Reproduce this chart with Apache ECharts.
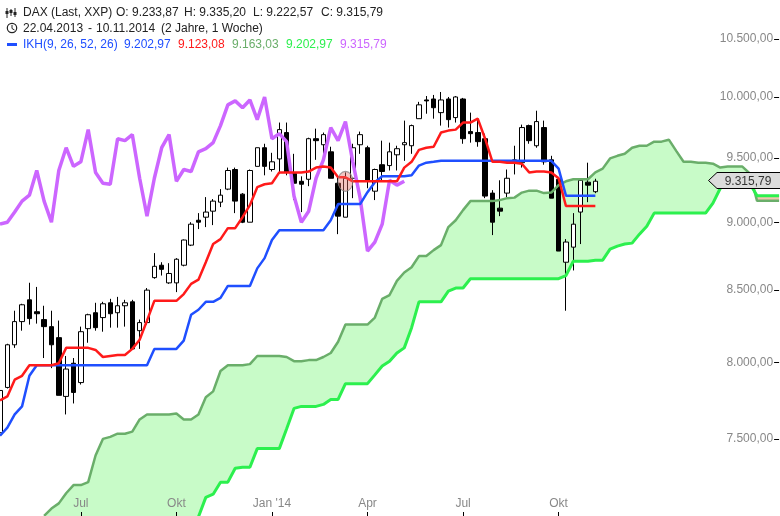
<!DOCTYPE html>
<html>
<head>
<meta charset="utf-8">
<style>html,body{margin:0;padding:0;background:#fff}#main{width:780px;height:516px}</style>
<script src="https://cdn.jsdelivr.net/npm/echarts@6/dist/echarts.min.js"></script>
</head>
<body>
<div id="main"></div>
<script>
// weekly candles, x index = week
const opens = [7539,7832,8118,8278,8431,8347,8292,8243,8167,7773,7993,7864,8229,8340,8306,8410,8340,8389,8417,8215,8271,
  8590,8680,8552,8552,8680,8828,9015,9038,9084,9153,9254,9408,9215,9000,9433,9582,9408,9492,9705,9377,
  9315,9331,9655,9606,9549,9300,9038,9339,9606,9582,9238,9446,9439,9525,9606,9598,9819,9975,9983,9869,
  9983,9828,9983,9713,9705,9655,9223,9107,9223,9477,9462,9762,9598,9746,9485,9331,8702,8813,9077,9308,9233.87];
const closes = [7812,8118,8278,8396,8299,8333,8243,8118,7780,7954,7799,8208,8326,8236,8403,8333,8389,8410,8090,8271,8500,
  8672,8650,8620,8724,8866,8985,9000,9077,9161,9207,9400,9161,9000,9400,9582,9433,9469,9729,9385,9300,
  9292,9655,9639,9688,9339,9046,9339,9582,9688,9315,9408,9392,9549,9574,9623,9762,9934,9967,9910,9975,
  9811,10000,9655,9696,9631,9200,9000,9084,9339,9485,9746,9639,9795,9469,9184,8784,8851,8985,9323,9285,9315.79];
const lows = [7445,7825,8097,8215,8257,8264,8028,7960,7780,7656,7727,7851,8132,8215,8208,8236,8236,8243,8090,8090,8257,
  8582,8605,8545,8486,8672,8821,8948,8963,8978,9115,9246,9069,8993,9000,9433,9362,9392,9377,9362,9169,
  9077,9277,9485,9492,9339,8910,9038,9184,9533,9261,9169,9315,9400,9400,9477,9533,9819,9860,9819,9762,
  9746,9787,9614,9623,9590,9184,8903,9046,9192,9369,9423,9614,9582,9446,9184,8784,8354,8642,8836,9153,9222.57];
const highs = [7838,8125,8354,8403,8553,8523,8389,8354,8285,8042,8028,8243,8333,8410,8417,8438,8452,8431,8431,8292,8515,
  8769,8702,8695,8732,8870,9000,9069,9192,9177,9254,9423,9423,9223,9408,9582,9614,9541,9787,9787,9533,
  9354,9663,9737,9705,9590,9362,9385,9614,9713,9598,9415,9639,9623,9598,9803,9770,9959,10008,10017,10042,
  10000,10008,9992,9869,9819,9696,9246,9323,9408,9598,9770,9770,9885,9803,9517,9346,8873,9069,9339,9462,9335.20];

const tenkan = [7747,7773,7883,7909,7980,7980,7980,7980,7993,8097,8097,8097,8097,8083,8035,8042,8049,8049,8090,8153,8285,
  8424,8424,8424,8424,8472,8545,8575,8702,8836,8873,8955,8955,9038,9130,9269,9292,9300,9385,9385,9385,
  9385,9392,9423,9431,9423,9346,9346,9315,9315,9315,9315,9315,9315,9315,9423,9469,9565,9582,9590,9705,
  9721,9729,9787,9787,9819,9655,9469,9469,9462,9462,9454,9385,9392,9392,9385,9339,9123.08,9123.08,9123.08,9123.08,9123.08];
const kijun = [7520,7571,7656,7708,7909,7980,7980,7980,7980,7980,7980,7980,7980,7980,7980,7980,7980,7980,7980,7980,7980,
  8090,8090,8090,8090,8146,8326,8361,8417,8417,8445,8530,8530,8530,8530,8657,8732,8866,8940,8940,8940,
  8940,8940,8940,8940,9015,9138,9138,9138,9138,9230,9308,9354,9354,9354,9354,9362,9439,9462,9469,9477,
  9477,9477,9477,9477,9477,9477,9477,9477,9477,9477,9477,9477,9477,9477,9477,9415,9202.97,9202.97,9202.97,9202.97,9202.97];
const senkouA = [null,null,null,null,null,null,7030,7073,7104,7165,7214,7214,7232,7396,7500,7513,7533,7533,7546,7624,7656,
  7656,7656,7656,7662,7624,7624,7656,7767,7806,7941,7980,7980,7980,7987,8042,8042,8042,8042,8035,8007,
  8007,8014,8014,8035,8062,8139,8257,8257,8257,8257,8306,8438,8465,8567,8627,8665,8747,8747,8791,8828,
  8963,9015,9092,9161,9161,9161,9161,9169,9184,9188,9227,9242,9242,9223,9227,9285,9315,9331,9331,9331,9385,
  9415,9496,9517,9533,9582,9598,9598,9631,9631,9647,9557,9469,9469,9462,9462,9454,9423,9431,9431,9431,9377,
  9163.03,9163.03,9163.03,9163.03];
const senkouB = [null,null,null,null,null,null,null,null,null,null,null,null,null,null,null,null,null,null,null,null,null,
  null,null,null,null,null,null,7024,7140,7159,7232,7232,7317,7323,7323,7439,7439,7439,7439,7565,7695,
  7708,7708,7708,7721,7753,7753,7857,7857,7857,7857,7915,7974,8007,8062,8097,8236,8417,8417,8417,8417,
  8493,8515,8515,8582,8582,8582,8582,8582,8582,8582,8582,8582,8582,8582,8582,8582,8605,8709,8709,8709,8717,
  8717,8798,8821,8836,8843,8910,8970,9069,9069,9069,9069,9069,9069,9069,9069,9146,9261,9323,9323,9323,9300,
  9202.97,9202.97,9202.97,9202.97];
const chikou = closes.slice(26);

const xTickIdx = [11, 24, 37, 50, 63, 76];
const xTickText = ['Jul', 'Okt', "Jan '14", 'Apr', 'Jul', 'Okt'];
const yTicks = [7500, 8000, 8500, 9000, 9500, 10000, 10500];
const yMin = 7029, yMax = 10850;
const markerWeek = 47, markerValue = 9315;

const headLine1 = ['DAX (Last, XXP)', 'O: 9.233,87', 'H: 9.335,20', 'L: 9.222,57', 'C: 9.315,79'];
const headLine2 = ['22.04.2013', '-', '10.11.2014', '(2 Jahre, 1 Woche)'];
const headLine3 = ['IKH(9, 26, 52, 26)', '9.202,97', '9.123,08', '9.163,03', '9.202,97', '9.315,79'];

const BLUE = '#1f4fff', RED = '#ff1a1a', MUTED = '#6aae6a', BRIGHT = '#2cf04e', PURPLE = '#cc66ff';
const FONT = '12px "Liberation Sans", Arial, sans-serif';

function fmtDe(v) {
  return v.toLocaleString('de-DE', {minimumFractionDigits: 2, maximumFractionDigits: 2});
}

const categories = senkouA.map((_, i) => {
  const p = xTickIdx.indexOf(i);
  return p >= 0 ? xTickText[p] : '';
});
const isTick = (i) => xTickIdx.indexOf(i) >= 0;

// kumo: one polygon per run, split where the two spans cross
function renderCloud(params, api) {
  const runs = [];
  let run = null;
  let prev = null;
  for (let i = 6; i < senkouA.length; i++) {
    const pa = api.coord([i, senkouA[i] == null ? yMin : senkouA[i]]);
    const pb = api.coord([i, senkouB[i] == null ? yMin : senkouB[i]]);
    const above = pa[1] <= pb[1];
    if (run && run.above !== above) {
      const d0 = prev.pa[1] - prev.pb[1], d1 = pa[1] - pb[1];
      const t = d0 / (d0 - d1);
      const cross = [prev.pa[0] + (pa[0] - prev.pa[0]) * t, prev.pa[1] + (pa[1] - prev.pa[1]) * t];
      run.a.push(cross);
      run = {above: above, a: [cross], b: []};
      runs.push(run);
    } else if (!run) {
      run = {above: above, a: [], b: []};
      runs.push(run);
    }
    run.a.push(pa);
    run.b.push(pb);
    prev = {pa: pa, pb: pb};
  }
  return {
    type: 'group',
    children: runs.map((r) => ({
      type: 'polygon',
      shape: {points: r.a.concat(r.b.slice().reverse())},
      style: {fill: r.above ? '#c8fbc8' : '#f2c4b0'}
    }))
  };
}

// price flag on the right edge
function renderFlag(params, api) {
  const y = Math.round(api.coord([0, closes[closes.length - 1]])[1]) - 0.5;
  return {
    type: 'group',
    children: [{
      type: 'polygon',
      shape: {points: [[708.5, y], [717, y - 8], [781, y - 8], [781, y + 8], [717, y + 8]]},
      style: {fill: '#dcdcdc', stroke: '#000', lineWidth: 1}
    }, {
      type: 'text',
      style: {text: fmtDe(closes[closes.length - 1]), x: 748, y: y + 1, align: 'center', verticalAlign: 'middle',
        font: FONT, fill: '#333'}
    }]
  };
}

function line(name, data, color, width, z) {
  return {name: name, type: 'line', data: data, symbol: 'none', z: z, silent: true,
    lineStyle: {color: color, width: width}, itemStyle: {color: color}};
}

function headText(text, x, y, fill) {
  return {type: 'text', silent: true, style: {text: text, x: x, y: y, font: FONT, fill: fill, verticalAlign: 'middle'}};
}

const head1X = [23, 116, 184, 253, 321];
const head2X = [23, 88, 96, 161];
const head3X = [23, 124, 178, 232, 286, 340];
const head3C = [BLUE, BLUE, RED, MUTED, BRIGHT, PURPLE];
const graphics = [];
headLine1.forEach((t, i) => graphics.push(headText(t, head1X[i], 13, '#222')));
headLine2.forEach((t, i) => graphics.push(headText(t, head2X[i], 29, '#222')));
headLine3.forEach((t, i) => graphics.push(headText(t, head3X[i], 45, head3C[i])));
// little header icons
[[7, 8, 18, 11, 14], [11, 9, 16, 10, 13], [15, 8, 17, 12, 15]].forEach((b) => {
  graphics.push({type: 'line', shape: {x1: b[0], y1: b[1], x2: b[0], y2: b[2]}, style: {stroke: '#222', lineWidth: 1}});
  graphics.push({type: 'rect', shape: {x: b[0] - 1.5, y: b[3], width: 3, height: b[4] - b[3]}, style: {fill: '#222'}});
});
graphics.push({type: 'circle', shape: {cx: 12, cy: 28, r: 4.7}, style: {fill: 'none', stroke: '#222', lineWidth: 1.2}});
graphics.push({type: 'polyline', shape: {points: [[12, 25], [12, 28.5], [14.5, 30]]}, style: {fill: 'none', stroke: '#222', lineWidth: 1}});
graphics.push({type: 'rect', shape: {x: 7, y: 43, width: 10, height: 3}, style: {fill: BLUE}});

var myChart = echarts.init(document.getElementById('main'));
var option = {
  animation: false,
  backgroundColor: '#fff',
  grid: {left: 0, right: 0.9, top: 0, bottom: 0, containLabel: false},
  xAxis: {
    type: 'category',
    data: categories,
    boundaryGap: false,
    z: 10,
    axisLine: {show: false},
    axisTick: {show: true, inside: true, length: 4, interval: isTick, lineStyle: {color: '#000'}},
    axisLabel: {show: true, inside: true, margin: 6, interval: isTick, color: '#888', fontSize: 12,
      fontFamily: 'Liberation Sans'},
    splitLine: {show: false}
  },
  yAxis: {
    type: 'log',
    logBase: Math.E,
    min: yMin,
    max: yMax,
    position: 'right',
    z: 10,
    axisLine: {show: false},
    axisTick: {show: true, inside: true, length: 5, customValues: yTicks, lineStyle: {color: '#000'}},
    axisLabel: {show: true, inside: true, margin: 6, customValues: yTicks, color: '#888', fontSize: 12,
      fontFamily: 'Liberation Sans', formatter: (v) => fmtDe(v)},
    splitLine: {show: false}
  },
  graphic: graphics,
  series: [
    {type: 'custom', data: [0], renderItem: renderCloud, z: 1, silent: true},
    {
      type: 'candlestick',
      data: opens.map((o, i) => [o, closes[i], lows[i], highs[i]]),
      barWidth: 5,
      z: 2,
      silent: true,
      itemStyle: {color: '#fff', color0: '#000', borderColor: '#000', borderColor0: '#000', borderWidth: 1}
    },
    line('Chikou', chikou, PURPLE, 3.5, 3),
    line('Senkou A', senkouA, MUTED, 2.5, 4),
    line('Senkou B', senkouB, BRIGHT, 3, 4),
    line('Kijun', kijun, BLUE, 2.5, 5),
    line('Tenkan', tenkan, RED, 2.5, 6),
    {
      type: 'scatter',
      data: [[markerWeek, markerValue]],
      symbol: 'circle',
      symbolSize: [15, 20],
      z: 7,
      silent: true,
      itemStyle: {color: 'rgba(230,110,100,0.5)', borderColor: '#888', borderWidth: 1}
    },
    {type: 'custom', data: [0], renderItem: renderFlag, z: 8, silent: true}
  ]
};
option && myChart.setOption(option);
</script>
</body>
</html>
